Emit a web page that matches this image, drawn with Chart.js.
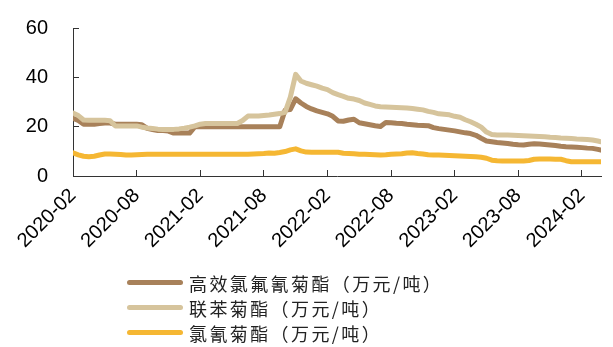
<!DOCTYPE html>
<html>
<head>
<meta charset="utf-8">
<script src="https://cdn.jsdelivr.net/npm/chart.js@4.4.1/dist/chart.umd.min.js"></script>
<style>
html,body{margin:0;padding:0;background:#fff;}
#wrap{position:relative;width:613px;height:347px;}
#legend{position:absolute;left:127px;top:270px;font-family:"Noto Sans CJK SC",sans-serif;font-size:18px;letter-spacing:2.4px;color:#222;}
#legend .row{display:flex;align-items:center;height:25px;}
#legend .sw{width:56px;height:5px;border-radius:3px;margin-right:6px;}
</style>
</head>
<body>
<div id="wrap">
  <canvas id="c" width="613" height="347"></canvas>
  <div id="legend"></div>
</div>
<script>
// 半月采样日期
const dates=[
  '2020-02-01','2020-02-16','2020-03-01','2020-03-16','2020-04-01','2020-04-16','2020-05-01','2020-05-16','2020-06-01','2020-06-16','2020-07-01','2020-07-16','2020-08-01','2020-08-16','2020-09-01','2020-09-16','2020-10-01','2020-10-16','2020-11-01','2020-11-16','2020-12-01','2020-12-16',
  '2021-01-01','2021-01-16','2021-02-01','2021-02-16','2021-03-01','2021-03-16','2021-04-01','2021-04-16','2021-05-01','2021-05-16','2021-06-01','2021-06-16','2021-07-01','2021-07-16','2021-08-01','2021-08-16','2021-09-01','2021-09-16','2021-10-01','2021-10-16','2021-11-01','2021-11-16','2021-12-01','2021-12-16',
  '2022-01-01','2022-01-16','2022-02-01','2022-02-16','2022-03-01','2022-03-16','2022-04-01','2022-04-16','2022-05-01','2022-05-16','2022-06-01','2022-06-16','2022-07-01','2022-07-16','2022-08-01','2022-08-16','2022-09-01','2022-09-16','2022-10-01','2022-10-16','2022-11-01','2022-11-16','2022-12-01','2022-12-16',
  '2023-01-01','2023-01-16','2023-02-01','2023-02-16','2023-03-01','2023-03-16','2023-04-01','2023-04-16','2023-05-01','2023-05-16','2023-06-01','2023-06-16','2023-07-01','2023-07-16','2023-08-01','2023-08-16','2023-09-01','2023-09-16','2023-10-01','2023-10-16','2023-11-01','2023-11-16','2023-12-01','2023-12-16',
  '2024-01-01','2024-01-16','2024-02-01','2024-02-16','2024-03-01','2024-03-16','2024-03-25'
];
// 高效氯氟氰菊酯
const lambdaCyh=[
  23.4,22.5,21,21,21,21.3,21.5,21.5,21,21,21,21,21,20.8,19.3,18.8,18.4,18.4,18.2,17.4,17.4,17.4,
  17.4,20,20,20,20,20,20,20,20,20,20,20,20,20,20,20,20,20,26.7,27,31.3,29.6,28.2,27.2,
  26.4,25.8,25.2,24.2,22.3,22.2,22.7,23,21.6,21.2,20.8,20.4,20.1,21.7,21.6,21.4,21.3,21,20.8,20.6,20.5,20.4,
  19.6,19.2,18.9,18.6,18.3,17.9,17.5,17.2,16.5,15.3,14.2,13.9,13.6,13.4,13.2,12.9,12.7,12.6,12.9,13.1,13,12.8,12.6,12.4,
  12.1,11.9,11.8,11.7,11.5,11.3,11.2,10.8,10.5
];
// 联苯菊酯
const bifenthrin=[
  25.5,24.5,22.7,22.6,22.6,22.6,22.6,22.4,20.3,20.3,20.3,20.3,20.3,19.8,19.5,19.3,19,18.9,18.9,18.9,19.1,19.4,
  19.8,20.3,21,21.3,21.3,21.3,21.3,21.3,21.3,21.3,22.5,24.3,24.3,24.3,24.5,24.7,25,25.3,25.8,32,41.2,38.5,37.6,37,
  36.4,35.6,35,33.8,33,32.3,31.5,31.2,30.6,29.6,29,28.4,28.1,28,27.9,27.8,27.7,27.6,27.4,27.1,26.8,26.2,
  25.8,25.2,25,24.8,24.2,23.8,22.8,22,21,19.8,17.8,16.8,16.6,16.6,16.6,16.5,16.4,16.3,16.2,16.1,16,15.9,15.7,15.6,
  15.4,15.3,15.2,15,14.9,14.8,14.6,14.2,13.9
];
// 氯氰菊酯
const cypermethrin=[
  9.4,8.6,8,7.8,8,8.5,8.9,8.9,8.8,8.7,8.5,8.5,8.6,8.7,8.8,8.8,8.8,8.8,8.8,8.8,8.8,8.8,
  8.8,8.8,8.8,8.8,8.8,8.8,8.8,8.8,8.8,8.8,8.8,8.8,8.9,9,9.1,9.3,9.2,9.5,9.9,10.6,11,10.2,9.7,9.6,
  9.6,9.6,9.6,9.6,9.6,9.2,9.1,9,8.8,8.8,8.7,8.6,8.5,8.6,8.8,8.9,9,9.3,9.4,9.1,8.9,8.6,
  8.5,8.5,8.4,8.3,8.2,8.1,8,7.9,7.8,7.6,7.2,6.4,6.2,6.1,6.1,6.1,6.1,6.1,6.3,6.8,6.9,6.9,6.9,6.8,
  6.8,6.2,5.8,5.8,5.8,5.8,5.8,5.8,5.8
];
const seriesNames=['高效氯氟氰菊酯（万元/吨）','联苯菊酯（万元/吨）','氯氰菊酯（万元/吨）'];
const seriesColors=['#A8815A','#D6C49C','#F5B733'];
const yTicks=[0,20,40,60];

// 日期 -> 以 2020-02 为起点的月序号
function monthIdx(s){const [y,m,d]=s.split('-').map(Number);return (y-2020)*12+(m-2)+(d-1)/30;}
function pts(vals){return vals.map((v,i)=>({x:monthIdx(dates[i]),y:v}));}
const xMax=monthIdx(dates[dates.length-1]);

const tickFont={family:'"Liberation Sans", Arial, sans-serif',size:20};
const axisColor='#333';

const chart=new Chart(document.getElementById('c'),{
  type:'line',
  data:{datasets:[
    {label:seriesNames[0],data:pts(lambdaCyh),borderColor:seriesColors[0],order:1},
    {label:seriesNames[1],data:pts(bifenthrin),borderColor:seriesColors[1],order:0},
    {label:seriesNames[2],data:pts(cypermethrin),borderColor:seriesColors[2],order:2}
  ]},
  options:{
    responsive:false,animation:false,
    layout:{padding:{left:13,right:12,top:28,bottom:91}},
    plugins:{legend:{display:false},tooltip:{enabled:false}},
    elements:{point:{radius:0},line:{borderWidth:5,tension:0,borderCapStyle:'round',borderJoinStyle:'round',fill:false}},
    scales:{
      x:{type:'linear',min:0,max:xMax,
        border:{color:axisColor,width:1},
        grid:{drawOnChartArea:false,tickLength:-6,color:axisColor},
        ticks:{stepSize:6,includeBounds:false,autoSkip:false,minRotation:45,maxRotation:45,padding:14,color:'#000',font:tickFont,
          callback:v=>{const y=2020+Math.floor((v+1)/12);const m=(v+1)%12+1;return y+'-'+String(m).padStart(2,'0');}},
        afterFit:s=>{s.height=80;s.paddingLeft=0;s.paddingRight=0;}
      },
      y:{min:0,max:60,
        border:{color:axisColor,width:1},
        grid:{drawOnChartArea:false,tickLength:-6,color:axisColor},
        afterBuildTicks:ax=>{ax.ticks=yTicks.map(v=>({value:v}));},
        ticks:{padding:31,color:'#000',font:tickFont},
        afterFit:s=>{s.width=60;s.paddingTop=0;s.paddingBottom=0;}
      }
    }
  }
});

// 图例
document.getElementById('legend').innerHTML=chart.data.datasets.map(ds=>
  `<div class="row"><span class="sw" style="background:${ds.borderColor}"></span><span>${ds.label}</span></div>`).join('');
</script>
</body>
</html>
